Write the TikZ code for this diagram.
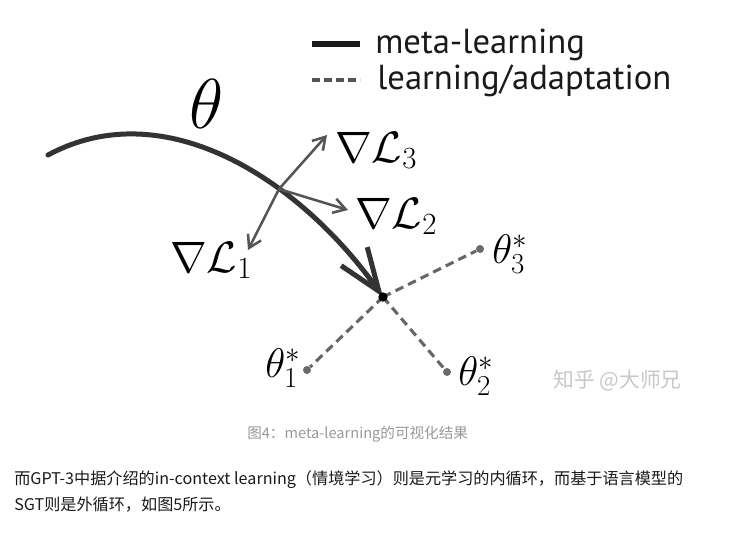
\RequirePackage{fix-cm}
\documentclass[tikz,border=0pt]{standalone}
\usepackage{fontspec}
\usetikzlibrary{arrows.meta}
\newfontfamily\legendfont{PT Sans}
\newfontfamily\cjk{Noto Sans CJK SC}
\definecolor{curvegray}{HTML}{333333}
\definecolor{gradgray}{HTML}{555555}
\definecolor{dashgray}{HTML}{666666}
\definecolor{dotgray}{HTML}{6A6A6A}
\definecolor{capgray}{HTML}{999999}
\definecolor{wmgray}{HTML}{C8C8C8}
\definecolor{bodyblack}{HTML}{1A1A1A}
\begin{document}
\begin{tikzpicture}[x=0.75pt,y=-0.75pt,
  meta/.style={draw=curvegray, line width=3.75pt, line cap=round,
    -{Straight Barb[length=32pt,width=24pt,line width=3.75pt]}},
  grad/.style={draw=gradgray, line width=1.9pt,
    -{Straight Barb[length=9pt,width=11pt,line width=1.9pt]}},
  adapt/.style={draw=dashgray, line width=2.3pt, dash pattern=on 6.5pt off 4pt},
  legsolid/.style={draw=bodyblack, line width=3.8pt},
  legdash/.style={draw=gradgray, line width=2.3pt, dash pattern=on 6pt off 3pt},
  dotnode/.style={circle, fill=dotgray, inner sep=0pt, minimum size=6pt},
  centre/.style={circle, fill=black, inner sep=0pt, minimum size=7pt},
  mlabel/.style={inner sep=0pt, anchor=base west, font=\fontsize{33}{36}\selectfont},
  tlabel/.style={inner sep=0pt, anchor=base west, font=\fontsize{31}{34}\selectfont},
  legtext/.style={inner sep=0pt, anchor=base west, font=\legendfont\fontsize{26}{29}\selectfont, text=bodyblack},
  bodytext/.style={inner sep=0pt, anchor=base west, text=bodyblack, font=\cjk\fontsize{12.1}{14}\selectfont},
]
\useasboundingbox (0,0) rectangle (736,533);
\fill[white] (0,0) rectangle (736,533);

% legend
\coordinate (ls1) at (312,44);
\coordinate (ls2) at (360,44);
\coordinate (ld1) at (312,80);
\coordinate (ld2) at (360,80);
\draw[legsolid] (ls1) -- (ls2);
\draw[legdash] (ld1) -- (ld2);
\node[legtext] (lmeta) at (375,53) {meta-learning};
\node[legtext] (ladapt) at (377,89) {learning/adaptation};

% theta
\node[inner sep=0pt, font=\fontsize{53}{56}\selectfont] (theta) at (207,104) {$\theta$};

% main curve
\coordinate (start) at (48,155);
\coordinate (tip) at (383,297);
\coordinate (g) at (279,189);
\draw[meta] (start) .. controls (165,92) and (300,180) .. (tip);

% gradient arrows
\coordinate (g3) at (327,135);
\coordinate (g2) at (348,210);
\coordinate (g1) at (248,250);
\draw[grad] (g) -- (g3);
\draw[grad] (g) -- (g2);
\draw[grad] (g) -- (g1);
\node[mlabel] (L3) at (335,162) {$\nabla\mathcal{L}_3$};
\node[mlabel] (L2) at (355,228) {$\nabla\mathcal{L}_2$};
\node[mlabel] (L1) at (170,272) {$\nabla\mathcal{L}_1$};

% adaptation
\node[dotnode] (d3) at (480,249) {};
\node[dotnode] (d2) at (447,372) {};
\node[dotnode] (d1) at (307,370) {};
\draw[adapt] (tip) -- (d3);
\draw[adapt] (tip) -- (d2);
\draw[adapt] (tip) -- (d1);
\node[centre] (c) at (tip) {};
\node[tlabel] (t3) at (492,263) {$\theta_3^*$};
\node[tlabel] (t2) at (458,385) {$\theta_2^*$};
\node[tlabel] (t1) at (265,377) {$\theta_1^*$};

% watermark
\node[inner sep=0pt, anchor=west, text=wmgray, font=\cjk\fontsize{15.6}{18}\selectfont] (wm) at (553,381) {知乎 @大师兄};

% caption
\node[inner sep=0pt, anchor=base west, text=capgray, font=\cjk\fontsize{10.95}{13}\selectfont] (cap) at (247,438) {图4：meta-learning的可视化结果};

% body
\node[bodytext] (b1) at (14,484) {而GPT-3中据介绍的in-context learning（情境学习）则是元学习的内循环，而基于语言模型的};
\node[bodytext] (b2) at (14,510) {SGT则是外循环，如图5所示。};
\end{tikzpicture}
\end{document}
